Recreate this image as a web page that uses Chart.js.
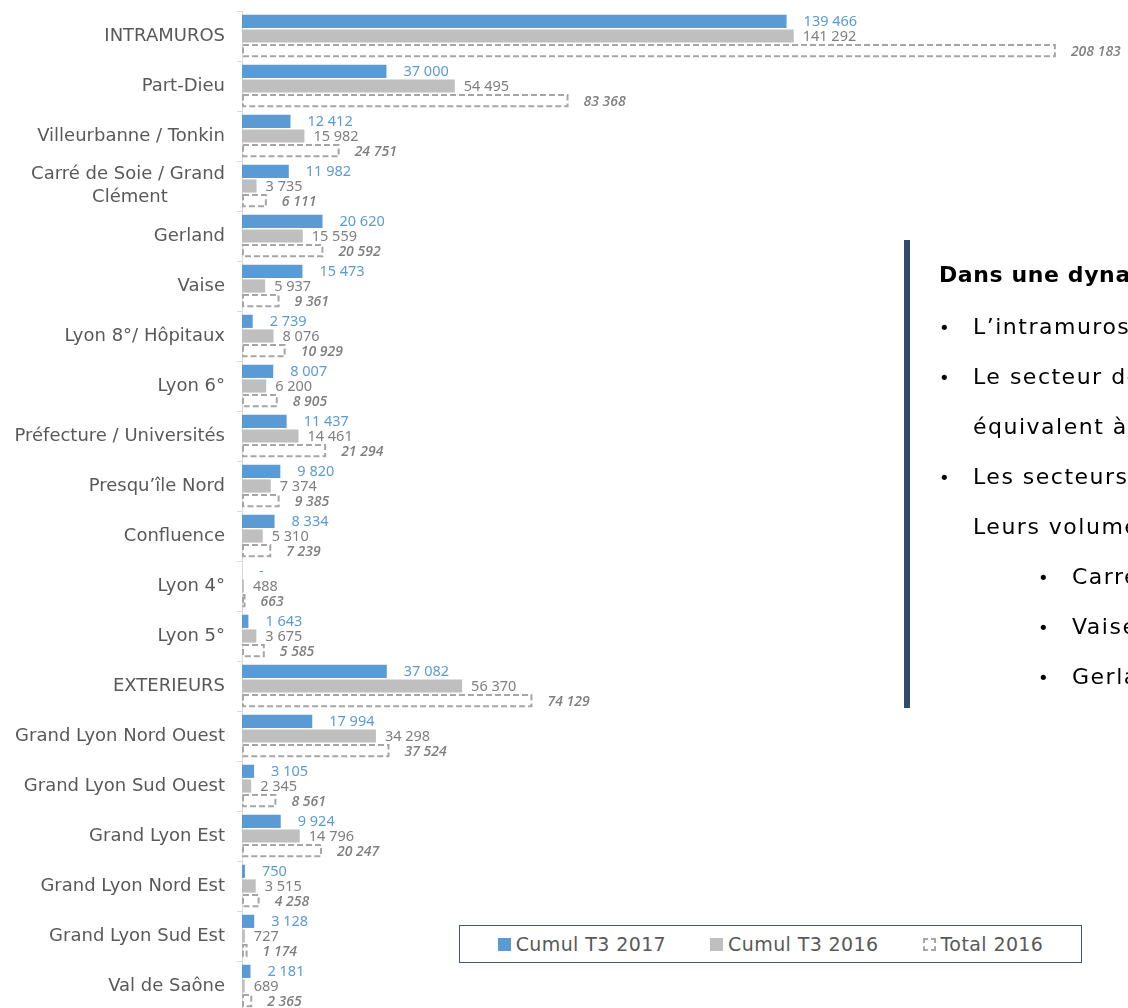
<!DOCTYPE html>
<html lang="fr">
<head>
<meta charset="utf-8">
<script src="https://cdn.jsdelivr.net/npm/chart.js@4.4.1/dist/chart.umd.min.js"></script>
<style>
  html, body { margin: 0; padding: 0; background: #fff; overflow: hidden; }
  body { width: 1128px; height: 1008px; position: relative; }
  #wrap { position: absolute; left: 0; top: 0; width: 1128px; height: 1012px; }
  #note {
    position: absolute; left: 904px; top: 240px; width: 218px; height: 468px;
    border-left: 6px solid #2f4b6e; overflow: hidden; box-sizing: content-box;
    font-family: "DejaVu Sans", sans-serif; font-size: 22px; color: #000;
    letter-spacing: 1.5px; white-space: nowrap; padding-top: 10px; height: 458px;
  }
  #note .l { height: 50px; line-height: 50px; }
  #note .t { font-weight: bold; height: 52px; line-height: 50px; padding-left: 29px; letter-spacing: 0.6px; }
  #note .b1 { padding-left: 29px; }
  #note .b2 { padding-left: 128px; }
  #note .dot { display: inline-block; width: 34px; letter-spacing: 0; font-size: 18px; }
  #note .in { padding-left: 63px; }
  #legend {
    position: absolute; left: 459px; top: 925px; width: 621px; height: 36px;
    border: 1px solid #46566c; background: #fff;
    display: flex; align-items: center; justify-content: center; gap: 44px;
    font-family: "DejaVu Sans", sans-serif; font-size: 19px; letter-spacing: 0.4px; color: #595959;
  }
  #legend .item { display: flex; align-items: center; gap: 5px; }
  #legend .sw { width: 13px; height: 13px; }
  #legend .dash { width: 9px; height: 9px; border: 2px dashed #a6a6a6; }
</style>
</head>
<body>
<div id="wrap"><canvas id="chart" width="1128" height="1012"></canvas></div>

<div id="note">
  <div class="t">Dans une dynamique</div>
  <div class="l b1"><span class="dot">•</span>L’intramuros</div>
  <div class="l b1"><span class="dot">•</span>Le secteur de</div>
  <div class="l in">équivalent à</div>
  <div class="l b1"><span class="dot">•</span>Les secteurs</div>
  <div class="l in">Leurs volumes</div>
  <div class="l b2"><span class="dot">•</span>Carré de Soie</div>
  <div class="l b2"><span class="dot">•</span>Vaise</div>
  <div class="l b2"><span class="dot">•</span>Gerland</div>
</div>

<div id="legend"></div>

<script>
// Categories and values
const categories = [
  'INTRAMUROS', 'Part-Dieu', 'Villeurbanne / Tonkin', ['Carré de Soie / Grand', 'Clément'],
  'Gerland', 'Vaise', 'Lyon 8°/ Hôpitaux', 'Lyon 6°', 'Préfecture / Universités',
  'Presqu’île Nord', 'Confluence', 'Lyon 4°', 'Lyon 5°', 'EXTERIEURS',
  'Grand Lyon Nord Ouest', 'Grand Lyon Sud Ouest', 'Grand Lyon Est',
  'Grand Lyon Nord Est', 'Grand Lyon Sud Est', 'Val de Saône'
];
const seriesNames = ['Cumul T3 2017', 'Cumul T3 2016', 'Total 2016'];
const cumul2017 = [139466, 37000, 12412, 11982, 20620, 15473, 2739, 8007, 11437, 9820,
  8334, 0, 1643, 37082, 17994, 3105, 9924, 750, 3128, 2181];
const cumul2016 = [141292, 54495, 15982, 3735, 15559, 5937, 8076, 6200, 14461, 7374,
  5310, 488, 3675, 56370, 34298, 2345, 14796, 3515, 727, 689];
const total2016 = [208183, 83368, 24751, 6111, 20592, 9361, 10929, 8905, 21294, 9385,
  7239, 663, 5585, 74129, 37524, 8561, 20247, 4258, 1174, 2365];
const xMax = 210000;

const blue = '#5b9bd5';
const grey = '#bfbfbf';
const dashGrey = '#a6a6a6';
const catFont = { family: 'DejaVu Sans', size: 18, lineHeight: 1.3 };

// label look per dataset
const labelStyle = [
  { color: blue, font: '14.5px "Noto Sans"', dx: 17 },
  { color: '#7f7f7f', font: '14.5px "Noto Sans"', dx: 9 },
  { color: '#7f7f7f', font: 'italic 600 14px "Open Sans"', dx: 16 }
];

function fmt(v) {
  if (v === 0) return '-';
  return String(v).replace(/\B(?=(\d{3})+(?!\d))/g, ' ');
}

// centre the lines of a wrapped category label
const mctx = document.createElement('canvas').getContext('2d');
mctx.font = catFont.size + 'px "' + catFont.family + '"';
function centerLines(lines) {
  const w = lines.map(l => mctx.measureText(l).width);
  const maxW = Math.max(...w);
  const sp = mctx.measureText('\u00a0').width;
  return lines.map((l, i) => l + '\u00a0'.repeat(Math.round((maxW - w[i]) / 2 / sp)));
}

// dashed outline bars for the totals
const dashedTotals = {
  id: 'dashedTotals',
  afterDatasetsDraw(chart) {
    const ctx = chart.ctx;
    const meta = chart.getDatasetMeta(2);
    ctx.save();
    ctx.strokeStyle = dashGrey;
    ctx.lineWidth = 2;
    ctx.setLineDash([6, 3]);
    meta.data.forEach(el => {
      const top = el.y - el.height / 2 + 1;
      ctx.strokeRect(el.base + 1, top, Math.max(el.x - el.base - 1, 1), el.height - 2);
    });
    ctx.restore();
  }
};

const valueLabels = {
  id: 'valueLabels',
  afterDatasetsDraw(chart) {
    const ctx = chart.ctx;
    ctx.save();
    ctx.textBaseline = 'middle';
    ctx.textAlign = 'left';
    chart.data.datasets.forEach((ds, di) => {
      const st = labelStyle[di];
      ctx.fillStyle = st.color;
      ctx.font = st.font;
      chart.getDatasetMeta(di).data.forEach((el, i) => {
        ctx.fillText(fmt(ds.data[i]), el.x + st.dx, el.y + 1);
      });
    });
    ctx.restore();
  }
};

const chart = new Chart(document.getElementById('chart'), {
  type: 'bar',
  data: {
    labels: categories,
    datasets: [
      { label: seriesNames[0], data: cumul2017, backgroundColor: blue },
      { label: seriesNames[1], data: cumul2016, backgroundColor: grey },
      { label: seriesNames[2], data: total2016, backgroundColor: 'rgba(0,0,0,0)', borderWidth: 0 }
    ]
  },
  options: {
    indexAxis: 'y',
    responsive: false,
    animation: false,
    devicePixelRatio: 1,
    layout: { padding: { top: 11, right: 66, bottom: 1, left: 0 } },
    datasets: { bar: { categoryPercentage: 0.88, barPercentage: 0.9 } },
    plugins: {
      legend: { display: false },
      tooltip: { enabled: false }
    },
    scales: {
      x: { display: false, min: 0, max: xMax },
      y: {
        afterFit(scale) {
          scale.width = 242;
          scale.paddingTop = 0;
          scale.paddingBottom = 0;
        },
        grid: { drawOnChartArea: false, drawTicks: true, tickLength: 5, color: '#d9d9d9', offset: true },
        border: { color: '#d9d9d9', width: 1 },
        ticks: {
          autoSkip: false,
          padding: 12,
          color: '#595959',
          font: catFont,
          callback: function(value, index) {
            const l = categories[index];
            return Array.isArray(l) ? centerLines(l) : l;
          }
        }
      }
    }
  },
  plugins: [dashedTotals, valueLabels]
});

// legend box built from the dataset names
const legend = document.getElementById('legend');
const swatch = ['<span class="sw" style="background:' + blue + '"></span>',
  '<span class="sw" style="background:' + grey + '"></span>',
  '<span class="dash"></span>'];
legend.innerHTML = seriesNames.map((n, i) =>
  '<span class="item">' + swatch[i] + '<span>' + n + '</span></span>').join('');
</script>
</body>
</html>
